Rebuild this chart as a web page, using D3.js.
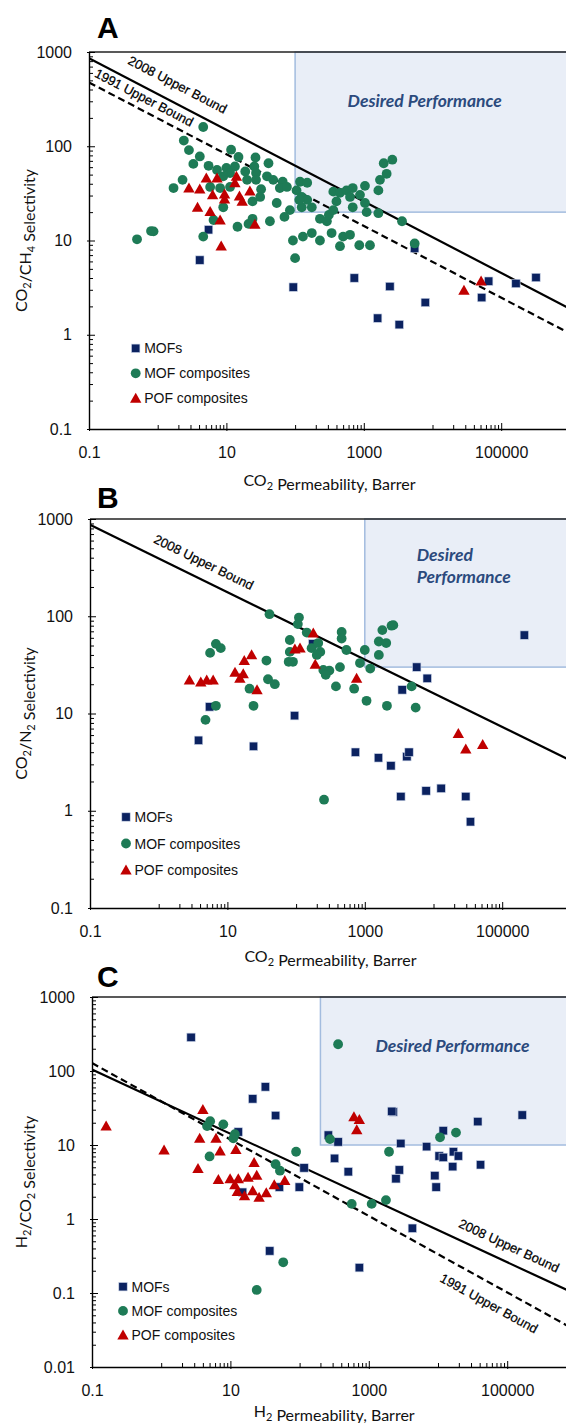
<!DOCTYPE html>
<html><head><meta charset="utf-8">
<script src="https://cdn.jsdelivr.net/npm/d3@7"></script>
<style>body{margin:0;background:#fff}svg{display:block}</style>
</head><body>
<svg id="c" width="566" height="1423"></svg>
<script>
// ---------------- DATA ----------------
const xTickLabels = [0.1, 10, 1000, 100000];
const yTicksAB = [0.1, 1, 10, 100, 1000];
const yTicksC = [0.01, 0.1, 1, 10, 100, 1000];
const seriesNames = ["MOFs", "MOF composites", "POF composites"];

// Panel A: CO2/CH4
const aMOFs = [[4.1,6.2],[5.5,13],[94,3.2],[727,4.0],[2400,3.25],[1590,1.5],[3280,1.28],[7850,2.2],[5500,8.3],[65700,3.7],[52000,2.48],[164000,3.5],[321000,4.05]];
const aMOFComposites = [[4.6,160],[2.4,115],[2.85,91],[4.1,78],[3.3,65],[5.5,62],[11.7,92],[15,77],[26.5,76],[41,66],[7.3,56],[10,59],[13.3,61],[11.3,52],[9,48],[18.8,54],[25.5,61],[27,52],[20,44],[27,44],[39,48],[48,44],[66,42],[60,36],[76,37],[2.3,44],[1.7,36],[5.8,37],[8.1,36],[11.3,37],[32,35],[31,29],[24,26],[54,25],[84,21],[70,17.8],[43,16],[118,42],[150,41],[105,34],[125,29],[150,27],[175,22.5],[125,22.5],[230,17],[290,16],[310,18.7],[360,21],[400,26],[360,33],[450,32],[560,34],[690,36],[630,29],[880,30.5],[1040,38],[690,22.5],[1040,25],[1100,20],[1630,19.5],[1630,34],[1720,44],[2150,51],[1950,66],[2600,72],[3600,16],[5500,9.3],[14.5,14],[21,15],[24,17],[93,10],[130,11],[175,12],[230,10],[340,12],[450,8.7],[500,11],[630,11.5],[860,8.9],[1230,8.9],[4.6,11],[0.87,12.5],[0.8,12.6],[0.5,10.3],[100,6.5],[9,22.5],[6.5,16.5],[115,27]];
const aPOFComposites = [[5.1,46],[7.3,46],[2.85,36],[4.1,35],[6.3,30.5],[9.4,31],[14,48],[13.3,41],[15.5,29.5],[22,33.5],[17,26],[3.8,22.5],[5.8,20.3],[8.1,16.5],[26,14.8],[8.4,8.7],[9.4,27.5],[28700,2.95],[51000,3.7]];
const aBound2008 = [[0.1,857],[1000000,1.89]];
const aBound1991 = [[0.1,475],[1000000,1.03]];
const aDesired = [100, 20];

// Panel B: CO2/N2
const bMOFs = [[5.5,11.7],[3.8,5.3],[95,9.5],[24,4.6],[730,4],[1580,3.5],[2400,2.9],[4100,3.6],[4400,4.0],[3350,1.4],[7800,1.6],[12900,1.7],[29500,1.4],[34500,0.77],[5700,30],[8100,23],[3500,17.5],[210000,64],[175,52]];
const bMOFComposites = [[41,105],[110,97],[106,83],[143,68],[81,57],[81,43],[78,34],[90,34],[5.6,42],[6.8,52],[8.0,47],[37,35],[39,22.5],[49,20],[21,18],[24,12],[6.8,12],[4.8,8.6],[168,47],[210,53],[225,43],[200,40],[249,28],[305,27.6],[270,25],[435,30],[380,19],[460,69],[460,59],[540,45],[700,18],[850,33],[1000,45],[1200,29],[1060,13.5],[1600,40],[1600,55],[2050,53],[1800,72],[2450,80],[2600,81],[2100,12],[4800,19],[5500,11.5],[255,1.3]];
const bPOFComposites = [[2.8,22],[4.1,21],[5.0,22],[6.2,22],[12.9,26.5],[15.2,23],[17,25.5],[17.6,35],[22.5,40],[27,17.5],[96,46],[114,47],[178,67],[190,32],[760,23],[23000,6.2],[29500,4.3],[52000,4.8]];
const bBound2008 = [[0.1,871],[1000000,3.28]];
const bDesired = [1000, 30];

// Panel C: H2/CO2
const cMOFs = [[2.7,285],[21,42],[32,61],[45,25],[13,15],[15,2.3],[51,2.7],[99,2.7],[37,0.37],[260,13.6],[360,11],[320,6.6],[505,4.35],[2260,28],[2150,28.5],[2900,10.5],[2760,4.6],[2470,3.5],[6850,9.5],[10400,7.1],[11900,6.8],[11900,15.6],[16700,8.1],[19700,7.1],[16300,5.1],[9000,3.85],[9400,2.7],[37600,20.7],[41200,5.4],[165000,25.4],[116,4.9],[4260,0.75],[730,0.22]];
const cMOFComposites = [[5.1,21],[4.6,18],[7.9,19],[11.6,14],[11,12.3],[5.0,7],[45,5.5],[52,4.5],[89,8.1],[360,230],[275,12],[1960,8.1],[10700,12.7],[18200,14.7],[566,1.6],[1100,1.6],[1770,1.8],[58,0.26],[24,0.11]];
const cPOFComposites = [[0.16,18],[1.1,8.5],[4.0,30],[3.6,12.3],[6.2,12.3],[7.1,8.3],[12,8.7],[3.4,4.8],[6.7,3.4],[9.9,3.5],[13,3.5],[18,3.65],[24,3.9],[22,5.8],[61,3.3],[11.6,2.9],[12.6,2.35],[16,2.05],[21,2.4],[26,1.96],[33,2.25],[43,2.9],[610,24],[730,22],[670,16]];
const cBound2008 = [[0.1,105],[1000000,0.0958]];
const cBound1991 = [[0.1,128],[1000000,0.031]];
const cDesired = [200, 10];

// ---------------- DRAWING ----------------
const W = 566;
const svg = d3.select("#c");
const FT = "'Liberation Sans', Arial, sans-serif";
const FL = "Lato, 'Open Sans', sans-serif";
const COL = {MOFs:"#0B2260", comp:"#1E7B56", pof:"#C00000"};

function rich(sel, parts, sub) {
  parts.forEach(p => {
    if (Array.isArray(p)) {
      sel.append("tspan").attr("font-size", sub).attr("dy", 4).text(p[0]);
      sel.append("tspan").attr("dy", -4).text("");
    } else sel.append("tspan").text(p);
  });
}

function marker(g, type, cx, cy) {
  if (type === 0) {
    g.append("rect").attr("x", cx - 4.2).attr("y", cy - 4.2).attr("width", 8.4).attr("height", 8.4)
      .attr("fill", COL.MOFs).attr("stroke", "#c9d3e6").attr("stroke-width", 0.6);
  } else if (type === 1) {
    g.append("circle").attr("cx", cx).attr("cy", cy).attr("r", 4.9).attr("fill", COL.comp);
  } else {
    g.append("path").attr("d", `M${cx},${cy-5.6}L${cx+5.7},${cy+4.4}L${cx-5.7},${cy+4.4}Z`).attr("fill", COL.pof);
  }
}

function drawPanel(cfg) {
  const g = svg.append("g");
  const x = d3.scaleLog().domain([0.1, 1e6]).range([cfg.x0, cfg.x1]);
  const y = d3.scaleLog().domain(cfg.yDom).range([cfg.yBot, cfg.yTop]);

  // desired box
  const bx = x(cfg.desired[0]), by = y(cfg.desired[1]);
  g.append("rect").attr("x", bx).attr("y", cfg.yTop).attr("width", W + 20 - bx).attr("height", by - cfg.yTop)
    .attr("fill", "#E9EEF7").attr("stroke", "#A3BCDF").attr("stroke-width", 1.5);
  cfg.desiredText.forEach(t => {
    g.append("text").attr("x", t.x).attr("y", t.y).attr("text-anchor", t.anchor)
      .attr("font-family", FL).attr("font-weight", 700).attr("font-style", "italic")
      .attr("font-size", 17.5).attr("fill", "#2B4A7D").text(t.s);
  });

  // frame
  g.append("line").attr("x1", cfg.x0).attr("x2", W).attr("y1", cfg.yTop).attr("y2", cfg.yTop)
    .attr("stroke", "#222").attr("stroke-width", 1.3);

  // axes
  const xMin = [];
  [0, 2, 4].forEach(e => { for (let n = 1; n <= 9; n++) xMin.push(n * Math.pow(10, e)); });
  const yMin = [];
  const e0 = Math.round(Math.log10(cfg.yDom[0]));
  for (let e = e0; e < 3; e++) for (let n = 2; n <= 9; n++) yMin.push(n * Math.pow(10, e));

  const styleAxis = s => { s.selectAll("path.domain").attr("stroke", "#000").attr("stroke-width", 1.4);
    s.selectAll(".tick line").attr("stroke", "#000").attr("stroke-width", 1);
    s.selectAll(".tick text").attr("font-family", FT).attr("font-size", 16).attr("fill", "#111"); };

  g.append("g").attr("transform", `translate(0,${cfg.yBot})`)
    .call(d3.axisTop(x).tickValues(xMin).tickSize(4).tickFormat("")).call(s => s.select(".domain").remove()).call(styleAxis);
  g.append("g").attr("transform", `translate(0,${cfg.yBot})`)
    .call(d3.axisBottom(x).tickValues(xTickLabels).tickSizeInner(2).tickSizeOuter(0).tickPadding(15.5).tickFormat(d => String(d)))
    .call(styleAxis);
  g.append("g").attr("transform", `translate(0,${cfg.yBot})`)
    .call(d3.axisTop(x).tickValues(xTickLabels).tickSize(6).tickFormat("")).call(s => s.select(".domain").remove()).call(styleAxis);

  g.append("g").attr("transform", `translate(${cfg.x0},0)`)
    .call(d3.axisRight(y).tickValues(yMin).tickSize(4).tickFormat("")).call(s => s.select(".domain").remove()).call(styleAxis);
  g.append("g").attr("transform", `translate(${cfg.x0},0)`)
    .call(d3.axisLeft(y).tickValues(cfg.yTicks).tickSizeInner(2).tickSizeOuter(0).tickPadding(15).tickFormat(d => String(d)))
    .call(styleAxis);
  g.append("g").attr("transform", `translate(${cfg.x0},0)`)
    .call(d3.axisRight(y).tickValues(cfg.yTicks).tickSize(6).tickFormat("")).call(s => s.select(".domain").remove()).call(styleAxis);

  // bound lines
  const clip = "clip" + cfg.id;
  svg.append("clipPath").attr("id", clip).append("rect").attr("x", cfg.x0).attr("y", cfg.yTop).attr("width", W - cfg.x0).attr("height", cfg.yBot - cfg.yTop);
  const line = d3.line().x(d => x(d[0])).y(d => y(d[1]));
  cfg.bounds.forEach(b => {
    g.append("path").attr("d", line(b.data)).attr("clip-path", `url(#${clip})`)
      .attr("fill", "none").attr("stroke", "#000").attr("stroke-width", 2.2)
      .attr("stroke-dasharray", b.dash ? "7,4" : null);
    const sx0 = x(b.data[0][0]), sy0 = y(b.data[0][1]), sx1 = x(b.data[1][0]), sy1 = y(b.data[1][1]);
    const ang = Math.atan2(sy1 - sy0, sx1 - sx0) * 180 / Math.PI;
    const ly = sy0 + (b.lx - sx0) * (sy1 - sy0) / (sx1 - sx0);
    g.append("text").attr("transform", `translate(${b.lx},${ly}) rotate(${ang})`).attr("dy", b.dy)
      .attr("text-anchor", "middle").attr("font-family", FT).attr("font-size", 13).attr("fill", "#000")
      .attr("stroke", "#000").attr("stroke-width", 0.25).text(b.label);
  });

  // points
  const series = [cfg.mofs, cfg.comp, cfg.pof];
  [0, 1, 2].forEach(k => {
    const sg = g.append("g");
    series[k].forEach(d => marker(sg, k, x(d[0]), y(d[1])));
  });

  // legend
  seriesNames.forEach((nm, i) => {
    const ly = cfg.leg.y + i * cfg.leg.dy;
    marker(g, i, cfg.leg.x, ly);
    g.append("text").attr("x", cfg.leg.x + 8.5).attr("y", ly + 5).attr("font-family", FT)
      .attr("font-size", 14).attr("fill", "#111").text(nm);
  });

  // titles
  const xt = g.append("text").attr("x", (cfg.x0 + cfg.x1) / 2).attr("y", cfg.xTitleY).attr("text-anchor", "middle")
    .attr("font-family", FL).attr("font-size", 16).attr("fill", "#111");
  rich(xt, cfg.xTitle, 11);
  const yt = g.append("text").attr("transform", `translate(27,${(cfg.yTop + cfg.yBot) / 2}) rotate(-90)`).attr("text-anchor", "middle")
    .attr("font-family", FL).attr("font-size", 16).attr("fill", "#111");
  rich(yt, cfg.yTitle, 11);

  g.append("text").attr("x", 97).attr("y", cfg.letterY).attr("font-family", FT).attr("font-weight", 700)
    .attr("font-size", 30).attr("fill", "#000").text(cfg.id);
}

drawPanel({id:"A", x0:89, x1:569.9, yTop:52, yBot:429, yDom:[0.1,1000], yTicks:yTicksAB,
  desired:aDesired, desiredText:[{s:"Desired Performance", x:424.7, y:107, anchor:"middle"}],
  bounds:[{data:aBound2008, dash:false, label:"2008 Upper Bound", lx:169.5, dy:-13},
          {data:aBound1991, dash:true, label:"1991 Upper Bound", lx:138.5, dy:-7.6}],
  mofs:aMOFs, comp:aMOFComposites, pof:aPOFComposites,
  leg:{x:135.7, y:348.3, dy:25},
  xTitle:["CO", ["2"], " Permeability, Barrer"], yTitle:["CO", ["2"], "/CH", ["4"], " Selectivity"], letterY:38, xTitleY:486});

drawPanel({id:"B", x0:90, x1:570.9, yTop:519, yBot:908, yDom:[0.1,1000], yTicks:yTicksAB,
  desired:bDesired, desiredText:[{s:"Desired", x:416.7, y:560.7, anchor:"start"},{s:"Performance", x:416.7, y:583, anchor:"start"}],
  bounds:[{data:bBound2008, dash:false, label:"2008 Upper Bound", lx:196.5, dy:-12}],
  mofs:bMOFs, comp:bMOFComposites, pof:bPOFComposites,
  leg:{x:126, y:817, dy:26.5},
  xTitle:["CO", ["2"], " Permeability, Barrer"], yTitle:["CO", ["2"], "/N", ["2"], " Selectivity"], letterY:508, xTitleY:962});

drawPanel({id:"C", x0:92, x1:576.4, yTop:997, yBot:1367, yDom:[0.01,1000], yTicks:yTicksC,
  desired:cDesired, desiredText:[{s:"Desired Performance", x:452.5, y:1051.7, anchor:"middle"}],
  bounds:[{data:cBound2008, dash:false, label:"2008 Upper Bound", lx:502.4, dy:-11.3},
          {data:cBound1991, dash:true, label:"1991 Upper Bound", lx:497.9, dy:22.9}],
  mofs:cMOFs, comp:cMOFComposites, pof:cPOFComposites,
  leg:{x:123, y:1286.7, dy:24.2},
  xTitle:["H", ["2"], " Permeability, Barrer"], yTitle:["H", ["2"], "/CO", ["2"], " Selectivity"], letterY:987, xTitleY:1417});
</script>
</body></html>
